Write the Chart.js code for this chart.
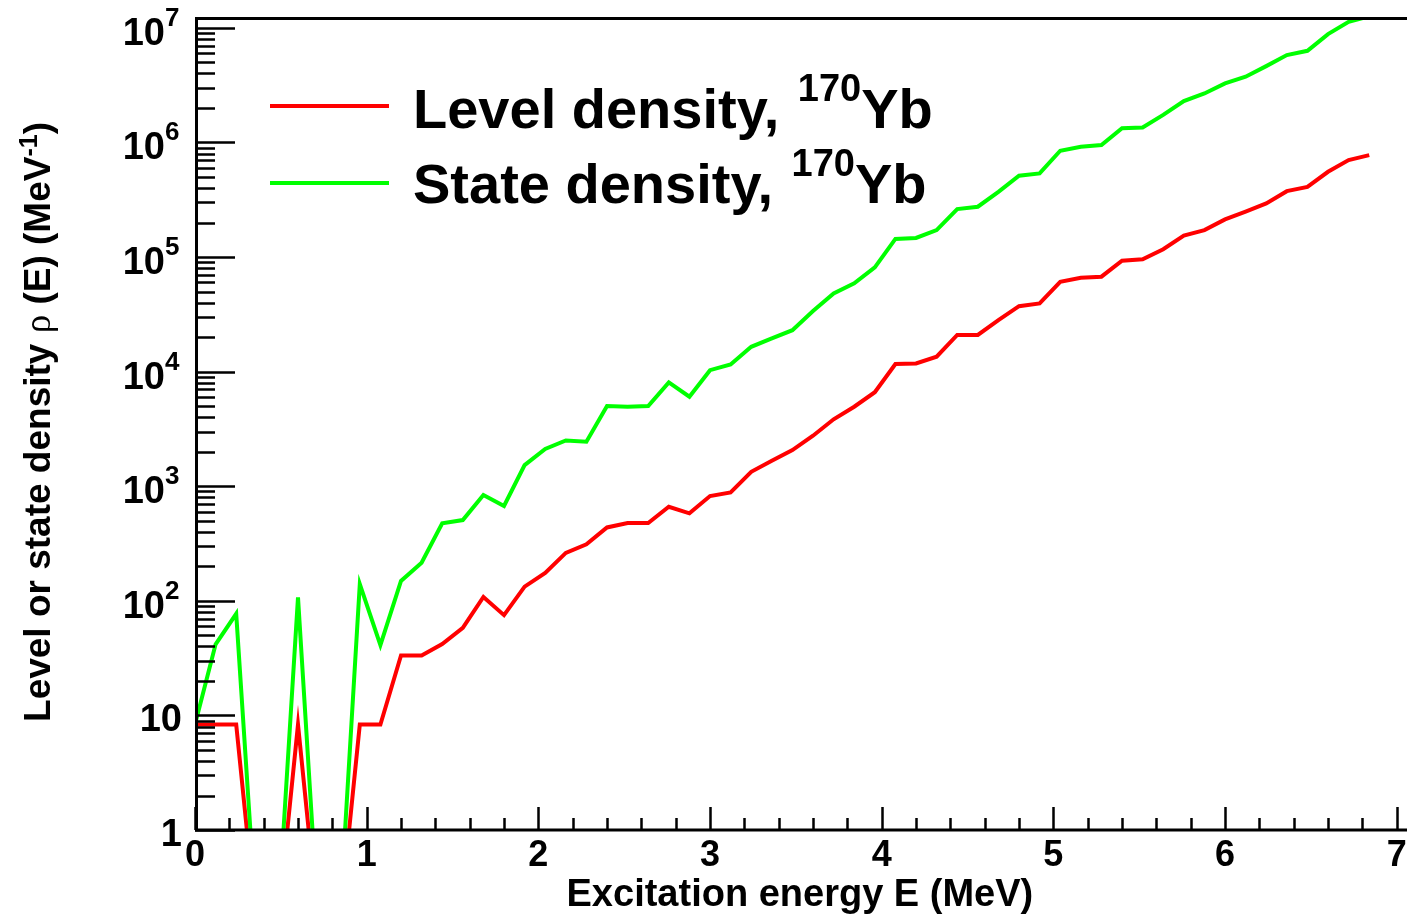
<!DOCTYPE html>
<html><head><meta charset="utf-8">
<script src="https://cdn.jsdelivr.net/npm/chart.js@4.4.0/dist/chart.umd.min.js"></script>
<style>html,body{margin:0;padding:0;background:#fff;}#wrap{width:1407px;height:917px;}</style>
</head><body><div id="wrap"><canvas id="c" width="1407" height="917"></canvas></div>
<script>
// ---- data ----
const energies = [0.00,0.12,0.24,0.36,0.48,0.60,0.72,0.84,0.96,1.08,1.20,1.32,1.44,1.56,1.68,1.80,1.92,2.04,2.16,2.28,
  2.40,2.52,2.64,2.76,2.88,3.00,3.12,3.24,3.36,3.48,3.60,3.72,3.84,3.96,4.08,4.20,4.32,4.44,4.56,4.68,
  4.80,4.92,5.04,5.16,5.28,5.40,5.52,5.64,5.76,5.88,6.00,6.12,6.24,6.36,6.48,6.60,6.72,6.84];
const levelDensity = [8.33,8.33,8.33,0,0,8.33,0,0,8.33,8.33,33.3,33.3,42,58,108,75,133,175,262,311,
  437,477,477,662,580,821,882,1336,1668,2069,2761,3840,4940,6610,11650,11800,13500,20900,20900,28200,
  37300,39400,60900,66000,67400,92900,95500,117000,154000,172000,213000,249000,294000,376000,410000,555000,702000,776000];
const stateDensity = [8.33,41.7,77,0,0,107,0,0,140,41,149,215,474,507,838,672,1530,2113,2510,2445,
  5010,4940,5010,8060,6040,10300,11570,16480,19500,23000,33800,48200,58900,81300,144000,147000,172000,262000,275000,371000,
  512000,537000,847000,918000,949000,1330000,1350000,1740000,2300000,2680000,3280000,3750000,4640000,5790000,6310000,8830000,11300000,12600000];
const seriesNames = ['Level density, ', 'State density, '];
const nucleusMass = '170';
const nucleusSymbol = 'Yb';
const xTickLabels = ['0','1','2','3','4','5','6','7'];
const yDecadeTicks = [1,10,100,1000,10000,100000,1000000,10000000];
const yDecadeExp = ['', '', '2','3','4','5','6','7'];
const xTitle = 'Excitation energy E (MeV)';
const yTitleParts = ['Level or state density ', '\u03C1', ' (E) (MeV', '-1', ')'];

const X_MIN = 0, X_MAX = 7.06, Y_MIN = 1, Y_MAX = 1.22e7;
const LOG_FLOOR = 0.14; // empty bins are drawn below the frame on the log axis

const FONT = '"Liberation Sans", Arial, Helvetica, sans-serif';
const RED = '#ff0000', GREEN = '#00ff00';

function toPoints(vals){ return energies.map((e,i)=>({x:e, y: vals[i] > 0 ? vals[i] : LOG_FLOOR})); }

const rootStyle = {
  id:'rootStyle',
  afterDatasetsDraw(chart){
    const ctx = chart.ctx, ca = chart.chartArea;
    const xs = chart.scales.x, ys = chart.scales.y;
    ctx.save();
    ctx.strokeStyle = '#000'; ctx.fillStyle = '#000';
    // frame
    ctx.lineWidth = 3;
    ctx.beginPath();
    ctx.moveTo(ca.left+1.5, ca.top); ctx.lineTo(ca.left+1.5, ca.bottom+1.5);
    ctx.moveTo(ca.left, ca.bottom); ctx.lineTo(ca.right, ca.bottom);
    ctx.moveTo(ca.left, ca.top+0.5); ctx.lineTo(ca.right, ca.top+0.5);
    ctx.stroke();
    // y ticks (inside)
    ctx.lineWidth = 2.5;
    ctx.beginPath();
    for (let k = 0; k < yDecadeTicks.length; k++){
      const d = yDecadeTicks[k];
      for (let m = 1; m <= 9; m++){
        const v = d*m;
        if (v < Y_MIN || v > Y_MAX) continue;
        const y = Math.round(ys.getPixelForValue(v)) + 0.5;
        const len = m === 1 ? 40 : 20;
        ctx.moveTo(ca.left, y); ctx.lineTo(ca.left+len, y);
      }
    }
    // x ticks (inside)
    for (let t = 0; t <= 35; t++){
      const v = t*0.2;
      const x = Math.round(xs.getPixelForValue(v)) + 0.5;
      const len = (t % 5 === 0) ? 23 : 12;
      ctx.moveTo(x, ca.bottom); ctx.lineTo(x, ca.bottom-len);
    }
    ctx.stroke();

    // x tick labels
    ctx.font = 'bold 36px ' + FONT;
    ctx.textAlign = 'center'; ctx.textBaseline = 'alphabetic';
    xTickLabels.forEach((lab)=>{
      const x = xs.getPixelForValue(Number(lab));
      ctx.fillText(lab, x, ca.bottom+36);
    });
    // y tick labels with superscripts
    yDecadeTicks.forEach((v,i)=>{
      const y = ys.getPixelForValue(v);
      const exp = yDecadeExp[i];
      ctx.textAlign = 'right';
      ctx.font = 'bold 38px ' + FONT;
      if (!exp){
        ctx.fillText(String(v), 182, y+16);
      } else {
        ctx.fillText('10', 165, y+17);
        ctx.textAlign = 'left';
        ctx.font = 'bold 26px ' + FONT;
        ctx.fillText(exp, 165, y-2);
      }
    });
    // x title
    ctx.textAlign = 'center';
    ctx.font = 'bold 38px ' + FONT;
    ctx.fillText(xTitle, (ca.left+xs.getPixelForValue(7))/2+4, 906);
    // y title rotated
    const fonts = ['bold 37px '+FONT, '37px "Liberation Serif", "DejaVu Serif", serif', 'bold 37px '+FONT, 'bold 25px '+FONT, 'bold 37px '+FONT];
    const raise = [0,0,0,13,0];
    let total = 0; const widths = [];
    yTitleParts.forEach((p,i)=>{ ctx.font = fonts[i]; const w = ctx.measureText(p).width; widths.push(w); total += w; });
    ctx.save();
    ctx.translate(50, (ca.top+ca.bottom)/2 - 2);
    ctx.rotate(-Math.PI/2);
    ctx.textAlign = 'left';
    let px = -total/2;
    yTitleParts.forEach((p,i)=>{ ctx.font = fonts[i]; ctx.fillText(p, px, -raise[i]); px += widths[i]; });
    ctx.restore();

    // legend
    const legendItems = [{color:RED, y:106, base:128}, {color:GREEN, y:183, base:203}];
    legendItems.forEach((it,i)=>{
      ctx.strokeStyle = it.color; ctx.lineWidth = 4;
      ctx.beginPath(); ctx.moveTo(270, it.y); ctx.lineTo(389, it.y); ctx.stroke();
      ctx.fillStyle = '#000'; ctx.textAlign = 'left';
      let x = 413;
      ctx.font = 'bold 56px ' + FONT;
      ctx.fillText(seriesNames[i], x, it.base); x += ctx.measureText(seriesNames[i]).width + 3;
      ctx.font = 'bold 38px ' + FONT;
      ctx.fillText(nucleusMass, x, it.base-27); x += ctx.measureText(nucleusMass).width;
      ctx.font = 'bold 56px ' + FONT;
      ctx.fillText(nucleusSymbol, x, it.base);
    });
    ctx.restore();
  }
};

new Chart(document.getElementById('c').getContext('2d'), {
  type:'line',
  data:{datasets:[
    {label:seriesNames[0]+nucleusMass+nucleusSymbol, data:toPoints(levelDensity), borderColor:RED, backgroundColor:RED, borderWidth:4, pointRadius:0, tension:0, fill:false, clip:0, order:2},
    {label:seriesNames[1]+nucleusMass+nucleusSymbol, data:toPoints(stateDensity), borderColor:GREEN, backgroundColor:GREEN, borderWidth:4, pointRadius:0, tension:0, fill:false, clip:0, order:1}
  ]},
  options:{
    responsive:false, animation:false, devicePixelRatio:1,
    layout:{padding:{top:18,right:0,left:0,bottom:0}},
    plugins:{legend:{display:false}, tooltip:{enabled:false}},
    scales:{
      x:{type:'linear', min:X_MIN, max:X_MAX, grid:{display:false, drawTicks:false}, border:{display:false}, ticks:{display:false}, afterFit(s){ s.height = 87; }},
      y:{type:'logarithmic', min:Y_MIN, max:Y_MAX, grid:{display:false, drawTicks:false}, border:{display:false}, ticks:{display:false}, afterFit(s){ s.width = 195; }}
    }
  },
  plugins:[rootStyle]
});
</script></body></html>
